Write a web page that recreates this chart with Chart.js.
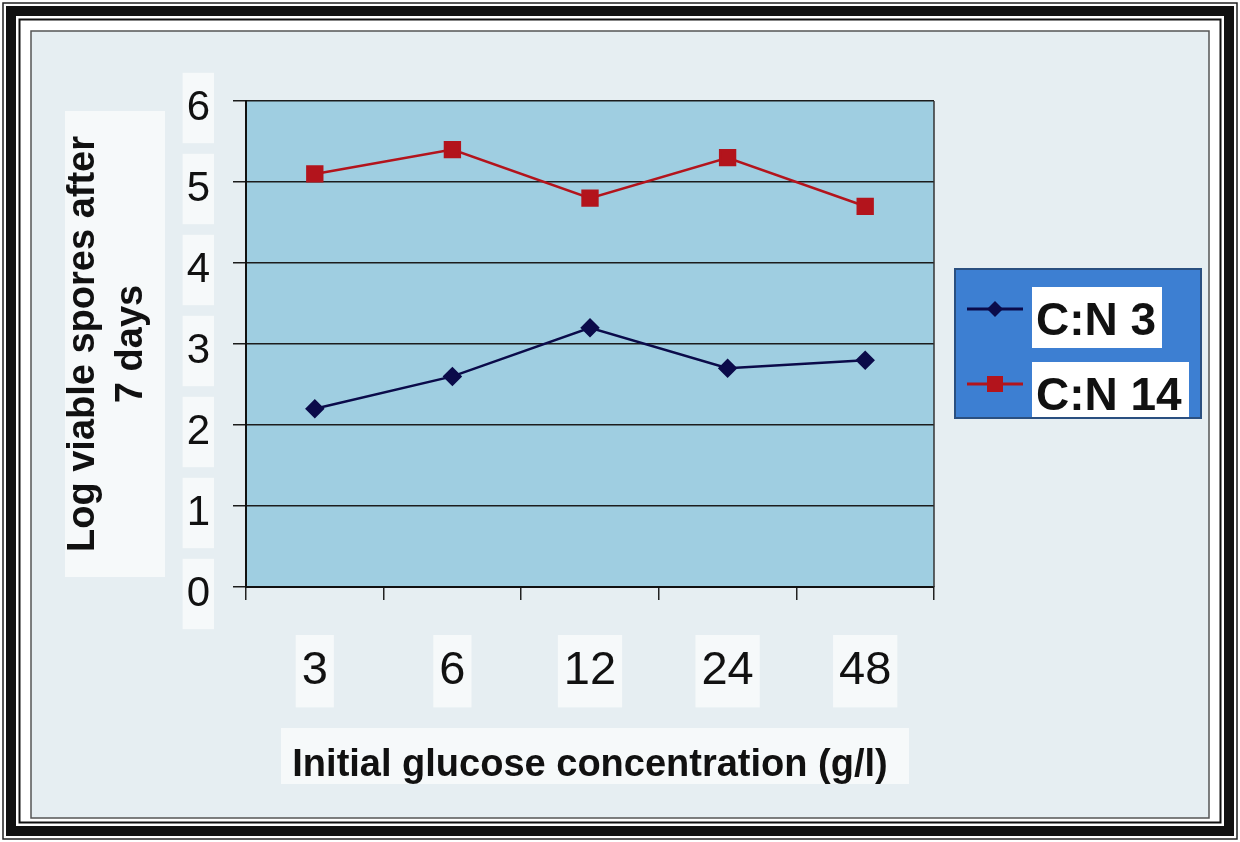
<!DOCTYPE html>
<html>
<head>
<meta charset="utf-8">
<title>Log viable spores after 7 days</title>
<script src="https://cdn.jsdelivr.net/npm/chart.js@4.4.1/dist/chart.umd.min.js"></script>
<style>
  html, body { margin: 0; padding: 0; background: #ffffff; overflow: hidden; }
  canvas { display: block; }
</style>
</head>
<body>
<canvas id="c" width="1240" height="842"></canvas>
<script>
// ---- data ----
const categories = ['3', '6', '12', '24', '48'];
const cn3Values = [2.2, 2.6, 3.2, 2.7, 2.8];
const cn14Values = [5.1, 5.4, 4.8, 5.3, 4.7];
const seriesLabels = ['C:N 3', 'C:N 14'];
const yTickValues = [0, 1, 2, 3, 4, 5, 6];
const xTitle = 'Initial glucose concentration (g/l)';
const yTitle = ['Log viable spores after', '7 days'];

// ---- styles ----
const FONT = "'Liberation Sans', Arial, Helvetica, sans-serif";
const NAVY = '#0b0b4a';
const RED = '#b3141c';
const PLOT_BG = '#9fcee1';
const PANEL_BG = '#e6eef2';
const PATCH = '#f6f9fa';
const LEGEND_BG = '#3d7fd2';

const framePlugin = {
  id: 'frame',
  beforeDraw(chart) {
    const ctx = chart.ctx;
    const W = chart.width, H = chart.height;
    ctx.save();
    ctx.fillStyle = '#ffffff';
    ctx.fillRect(0, 0, W, H);
    ctx.strokeStyle = '#222';
    ctx.lineWidth = 1.5;
    ctx.strokeRect(3, 3, W - 6, H - 6);
    ctx.strokeStyle = '#111';
    ctx.lineWidth = 10;
    ctx.strokeRect(11, 11, W - 22, H - 22);
    ctx.lineWidth = 2;
    ctx.strokeRect(19.5, 19.5, W - 39, H - 39);
    ctx.fillStyle = PANEL_BG;
    ctx.fillRect(31, 31, W - 62, H - 55);
    ctx.strokeStyle = '#555';
    ctx.lineWidth = 1.5;
    ctx.strokeRect(31, 31, W - 62, H - 55);
    const ca = chart.chartArea;
    ctx.fillStyle = PATCH;
    ctx.fillRect(65, ca.top + 10, 100, ca.bottom - ca.top - 20);
    ctx.fillRect(ca.left + 35, 728, ca.right - ca.left - 60, 56);
    ctx.fillStyle = PLOT_BG;
    ctx.fillRect(ca.left, ca.top, ca.right - ca.left, ca.bottom - ca.top);
    ctx.restore();
  },
  beforeDatasetsDraw(chart) {
    const ctx = chart.ctx, ca = chart.chartArea;
    ctx.save();
    ctx.strokeStyle = '#333';
    ctx.lineWidth = 1.5;
    ctx.beginPath();
    ctx.moveTo(ca.right, ca.top);
    ctx.lineTo(ca.right, ca.bottom);
    ctx.stroke();
    ctx.restore();
  }
};

const legendPlugin = {
  id: 'boxLegend',
  afterDraw(chart) {
    const ctx = chart.ctx;
    const ca = chart.chartArea;
    const x0 = ca.right + 21, y0 = 269, w = 246, h = 149;
    ctx.save();
    ctx.fillStyle = LEGEND_BG;
    ctx.fillRect(x0, y0, w, h);
    ctx.strokeStyle = '#2a4f80';
    ctx.lineWidth = 2;
    ctx.strokeRect(x0, y0, w, h);
    const rows = [
      { y: 309, boxTop: 287, boxH: 61, boxW: 130 },
      { y: 384, boxTop: 362, boxH: 55, boxW: 157 }
    ];
    ctx.font = 'bold 46px ' + FONT;
    ctx.textBaseline = 'alphabetic';
    chart.data.datasets.forEach((ds, i) => {
      const r = rows[i];
      ctx.fillStyle = '#ffffff';
      ctx.fillRect(x0 + 77, r.boxTop, r.boxW, r.boxH);
      ctx.strokeStyle = ds.borderColor;
      ctx.lineWidth = 3;
      ctx.beginPath();
      ctx.moveTo(x0 + 12, r.y);
      ctx.lineTo(x0 + 68, r.y);
      ctx.stroke();
      ctx.fillStyle = ds.pointBackgroundColor;
      if (ds.pointStyle === 'rectRot') {
        ctx.beginPath();
        ctx.moveTo(x0 + 40, r.y - 8);
        ctx.lineTo(x0 + 48, r.y);
        ctx.lineTo(x0 + 40, r.y + 8);
        ctx.lineTo(x0 + 32, r.y);
        ctx.closePath();
        ctx.fill();
      } else {
        ctx.fillRect(x0 + 32, r.y - 8, 16, 16);
      }
      ctx.fillStyle = '#111';
      ctx.fillText(ds.label, x0 + 81, r.y + 26);
    });
    ctx.restore();
  }
};

new Chart(document.getElementById('c'), {
  type: 'line',
  data: {
    labels: categories,
    datasets: [
      {
        label: seriesLabels[0],
        data: cn3Values,
        borderColor: NAVY,
        backgroundColor: NAVY,
        pointBackgroundColor: NAVY,
        pointBorderColor: NAVY,
        pointStyle: 'rectRot',
        pointRadius: 8,
        borderWidth: 2.5,
        tension: 0
      },
      {
        label: seriesLabels[1],
        data: cn14Values,
        borderColor: RED,
        backgroundColor: RED,
        pointBackgroundColor: RED,
        pointBorderColor: RED,
        pointStyle: 'rect',
        pointRadius: 10.5,
        borderWidth: 2.5,
        tension: 0
      }
    ]
  },
  options: {
    responsive: false,
    animation: false,
    devicePixelRatio: 1,
    layout: { padding: { left: 32, top: 101, right: 306, bottom: 0 } },
    plugins: {
      legend: { display: false },
      tooltip: { enabled: false },
      title: { display: false }
    },
    scales: {
      x: {
        type: 'category',
        offset: true,
        grid: {
          display: true,
          offset: true,
          drawOnChartArea: false,
          drawTicks: true,
          tickLength: 13,
          color: '#222',
          lineWidth: 1.5
        },
        border: { display: true, color: '#111', width: 2 },
        ticks: {
          font: { family: FONT, size: 47 },
          color: '#111',
          padding: 43,
          maxRotation: 0,
          showLabelBackdrop: true,
          backdropColor: PATCH,
          backdropPadding: { top: 8, bottom: 8, left: 6, right: 6 }
        },
        title: {
          display: true,
          text: xTitle,
          color: '#111',
          font: { family: FONT, size: 38, weight: 'bold' },
          padding: { top: 0, bottom: 54 }
        },
        afterFit(scale) { scale.height = 255; }
      },
      y: {
        min: 0,
        max: 6,
        afterBuildTicks(scale) { scale.ticks = yTickValues.map(v => ({ value: v })); },
        grid: {
          color: '#1c1c1c',
          lineWidth: 1.5,
          tickLength: 13,
          drawTicks: true
        },
        border: { display: true, color: '#111', width: 2 },
        ticks: {
          font: { family: FONT, size: 42 },
          color: '#111',
          padding: 23,
          labelOffset: 7,
          showLabelBackdrop: true,
          backdropColor: PATCH,
          backdropPadding: { top: 10, bottom: 10, left: 4, right: 4 }
        },
        title: {
          display: true,
          text: yTitle,
          color: '#111',
          font: { family: FONT, size: 38, weight: 'bold', lineHeight: 1.28 },
          padding: { top: 27, bottom: 0 }
        },
        afterFit(scale) { scale.width = 214; }
      }
    }
  },
  plugins: [framePlugin, legendPlugin]
});
</script>
</body>
</html>
